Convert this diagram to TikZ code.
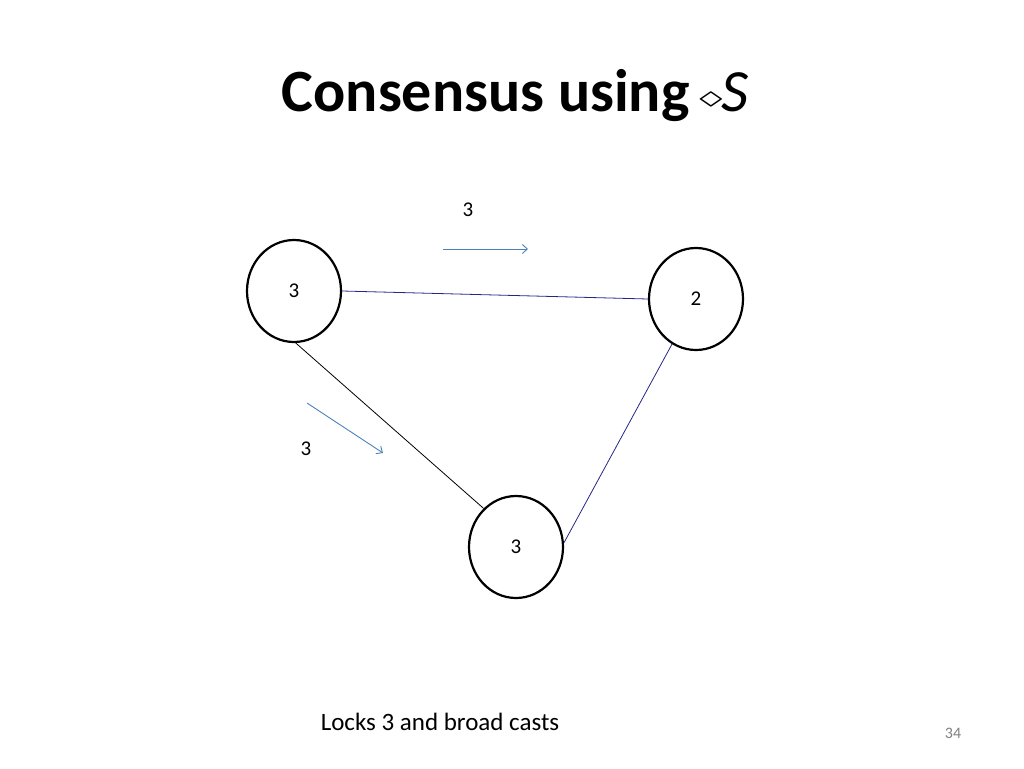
\documentclass[tikz,border=0pt]{standalone}
\usepackage{amssymb}
\usepackage{fontspec}
\setmainfont{Carlito}
\usetikzlibrary{shapes.geometric,arrows.meta}
\begin{document}
\begin{tikzpicture}[x=1pt,y=-1pt,
  proc/.style={draw,line width=2.2pt,ellipse,minimum width=94pt,minimum height=102pt,inner sep=0pt,font=\fontsize{21}{24}\selectfont},
  lbl/.style={font=\fontsize{21}{24}\selectfont},
  edgeb/.style={draw=blue!45!black!85,line width=0.8pt},
  arr/.style={-{Straight Barb[length=5pt,width=9pt]},draw=blue!50!cyan!60!black!70,line width=0.9pt}]
\useasboundingbox (0,0) rectangle (1024,768);
\node[font=\fontsize{60}{68}\selectfont\bfseries] (title) at (515,96) {Consensus using\,\raisebox{4pt}{\scalebox{1.9}[1.3]{$\diamond$}}\kern-2pt$\mathit{S}$};
\node[proc] (a) at (294,291) {3};
\node[proc] (b) at (696,299) {2};
\node[proc] (c) at (516,547) {3};
\draw[edgeb] (a.east) -- (b.west);
\draw[line width=0.8pt] (a.-88) -- (c.130);
\draw[edgeb] (b.-118) -- (c.5);
\coordinate (p1) at (443,249); \coordinate (p2) at (528,249);
\coordinate (q1) at (307,403); \coordinate (q2) at (383,453);
\draw[arr] (p1) -- (p2);
\draw[arr] (q1) -- (q2);
\node[lbl] (l1) at (468,210) {3};
\node[lbl] (l2) at (306,449) {3};
\node[font=\fontsize{25}{28}\selectfont] (cap) at (440,722) {Locks 3 and broad casts};
\node[font=\fontsize{16}{18}\selectfont,text=gray] (pg) at (953,733) {34};
\end{tikzpicture}
\end{document}
